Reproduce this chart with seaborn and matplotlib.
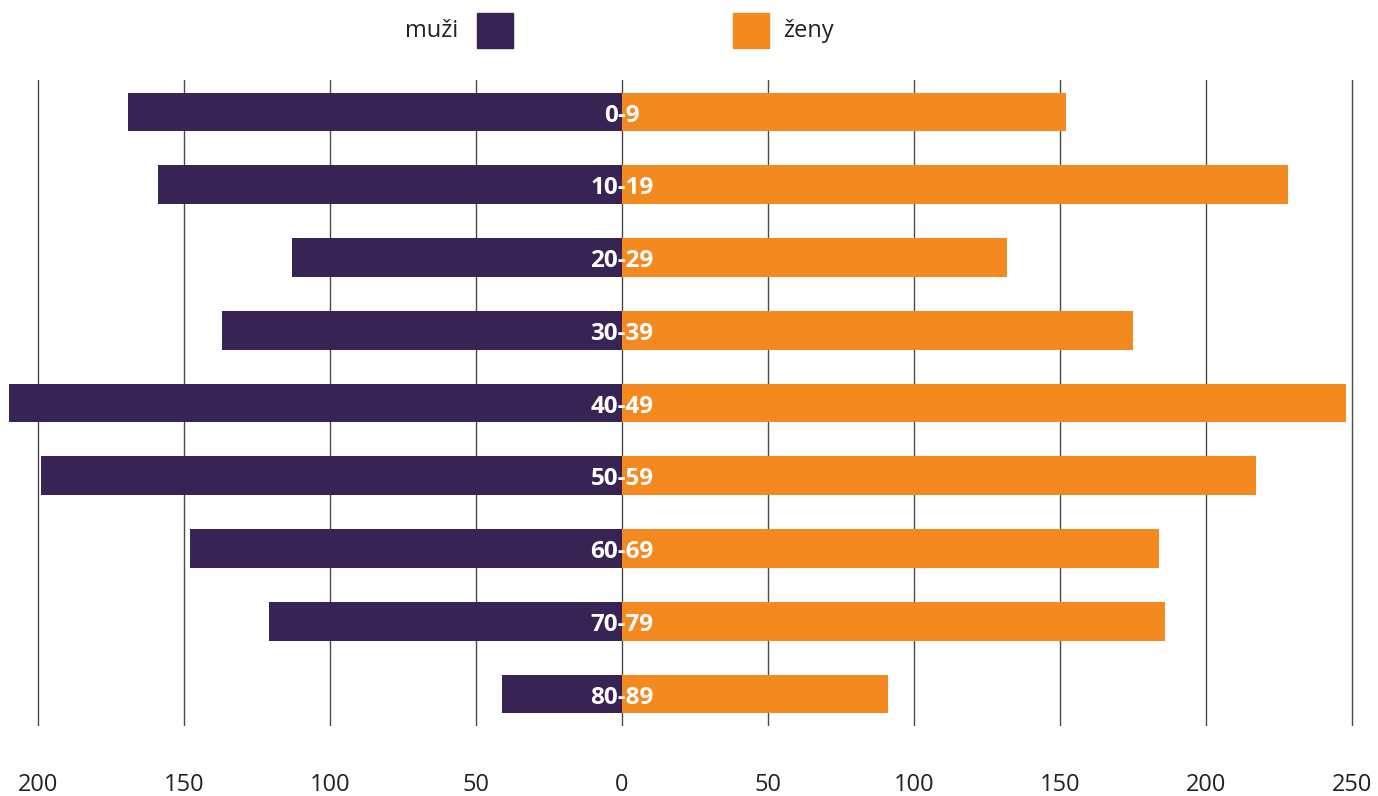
import numpy as np
import pandas as pd
import matplotlib
matplotlib.use('Agg')
import matplotlib.pyplot as plt
from matplotlib.patches import Rectangle
import seaborn as sns

# age groups and counts
ages = ['0-9', '10-19', '20-29', '30-39', '40-49', '50-59', '60-69', '70-79', '80-89']
muzi = [169, 159, 113, 137, 210, 199, 148, 121, 41]
zeny = [152, 228, 132, 175, 248, 217, 184, 186, 91]
ticks = [-200, -150, -100, -50, 0, 50, 100, 150, 200, 250]

purple = '#372454'
orange = '#F4891F'

sns.set_theme(style='white')
plt.rcParams['font.family'] = ['Open Sans', 'DejaVu Sans']

df = pd.DataFrame({'age': ages, 'muzi': muzi, 'zeny': zeny})
df['muzi_neg'] = -df['muzi']

fig = plt.figure(figsize=(13.78, 7.96), dpi=100)
ax = fig.add_axes([0, 70 / 796, 1, 646 / 796])

# grid lines behind bars
for t in ticks:
    ax.axvline(t, color='#4a4a4a', lw=1.0, zorder=0)

sns.barplot(data=df, x='muzi_neg', y='age', color=purple, width=0.535,
            saturation=1, orient='h', ax=ax, zorder=2, linewidth=0)
sns.barplot(data=df, x='zeny', y='age', color=orange, width=0.535,
            saturation=1, orient='h', ax=ax, zorder=2, linewidth=0)

for i, a in enumerate(ages):
    ax.text(0, i + 0.05, a, ha='center', va='center', color='white',
            fontsize=17.5, fontweight='bold', zorder=5)

ax.set_xlim(-213.0, 258.9)
ax.set_ylim(8.44, -0.44)
ax.set_xticks(ticks)
ax.set_xticklabels([str(abs(t)) for t in ticks], fontsize=17, color='#222222')
ax.tick_params(axis='x', length=0, pad=34)
ax.set_yticks([])
ax.set_xlabel('')
ax.set_ylabel('')
for s in ax.spines.values():
    s.set_visible(False)

# legend at top
H = 796.0
W = 1378.0
fig.patches.append(Rectangle((477 / W, 1 - 48 / H), 36 / W, 35 / H,
                             transform=fig.transFigure, color=purple))
fig.patches.append(Rectangle((733 / W, 1 - 48 / H), 36 / W, 35 / H,
                             transform=fig.transFigure, color=orange))
fig.text(458 / W, 1 - 31 / H, 'muži', ha='right', va='center', fontsize=17, color='#222222')
fig.text(783 / W, 1 - 31 / H, 'ženy', ha='left', va='center', fontsize=17, color='#222222')

fig.savefig('out.png', dpi=100)
